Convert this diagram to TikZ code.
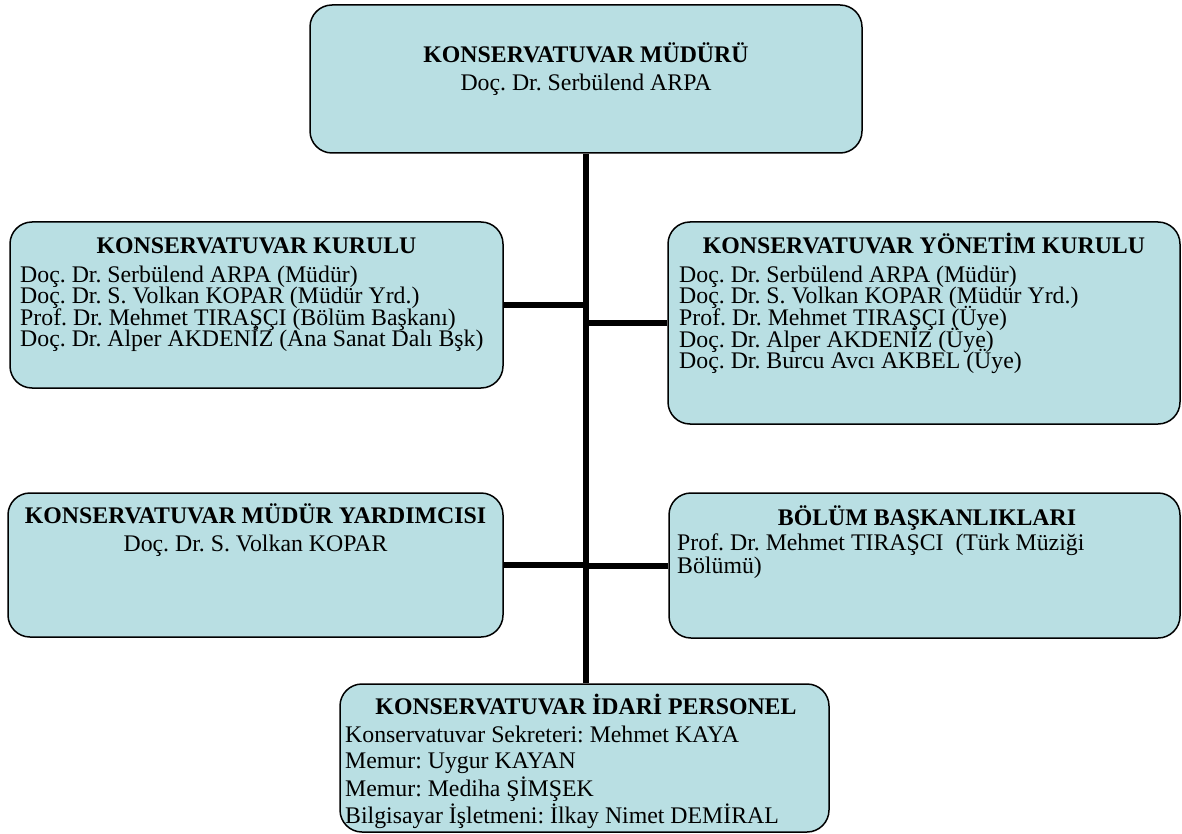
\documentclass[tikz,border=0pt]{standalone}
\usepackage{fontspec}
\setmainfont{Liberation Serif}
\frenchspacing
\definecolor{boxfill}{RGB}{185,223,227}
\begin{document}
\begin{tikzpicture}[x=1pt,y=-1pt,
  box/.style={draw=black, line width=1.5pt, fill=boxfill, rounded corners=22pt, inner sep=0pt},
  conn/.style={draw=black, line width=6pt},
  txt/.style={inner sep=0pt, font=\fontsize{23.8}{28}\selectfont},
  ttl/.style={inner sep=0pt, anchor=base, font=\fontsize{23.8}{28}\selectfont\bfseries},
  ctr/.style={txt, anchor=base},
  ln/.style={txt, anchor=base west}]
\useasboundingbox (0,0) rectangle (1182,834);

% boxes
\node[box, minimum width=552pt, minimum height=148pt] (mudur) at (586,79) {};
\node[box, minimum width=493pt, minimum height=166pt] (kurulu) at (256.5,305) {};
\node[box, minimum width=512pt, minimum height=202pt] (yonetim) at (924,323) {};
\node[box, minimum width=495pt, minimum height=144pt] (yard) at (255.5,565) {};
\node[box, minimum width=511pt, minimum height=145pt] (bolum) at (924.5,565.5) {};
\node[box, minimum width=489pt, minimum height=148pt] (idari) at (584.5,758) {};

% connectors
\draw[conn] (mudur.south) -- (mudur.south |- idari.north);
\draw[conn] (kurulu.east) -- (kurulu.east -| mudur.south);
\draw[conn] (yonetim.west) -- (yonetim.west -| mudur.south);
\draw[conn] (yard.east) -- (yard.east -| mudur.south);
\draw[conn] (bolum.west) -- (bolum.west -| mudur.south);

% top box
\node[ttl] (mudurT) at (586,63) {KONSERVATUVAR MÜDÜRÜ};
\node[ctr] (mudurA) at (586,91) {Doç. Dr. Serbülend ARPA};

% kurulu
\node[ttl] (kuruluT) at (256.5,254) {KONSERVATUVAR KURULU};
\node[ln] (kuruluA) at (20,282) {Doç. Dr. Serbülend ARPA (Müdür)};
\node[ln] (kuruluB) at (20,303.5) {Doç. Dr. S. Volkan KOPAR (Müdür Yrd.)};
\node[ln] (kuruluC) at (20,325) {Prof. Dr. Mehmet TIRAŞÇI (Bölüm Başkanı)};
\node[ln] (kuruluD) at (20,346.5) {Doç. Dr. Alper AKDENİZ (Ana Sanat Dalı Bşk)};

% yonetim
\node[ttl] (yonetimT) at (924,254) {KONSERVATUVAR YÖNETİM KURULU};
\node[ln] (yonetimA) at (679,282) {Doç. Dr. Serbülend ARPA (Müdür)};
\node[ln] (yonetimB) at (679,303.7) {Doç. Dr. S. Volkan KOPAR (Müdür Yrd.)};
\node[ln] (yonetimC) at (679,325.4) {Prof. Dr. Mehmet TIRAŞÇI (Üye)};
\node[ln] (yonetimD) at (679,347) {Doç. Dr. Alper AKDENİZ (Üye)};
\node[ln] (yonetimE) at (679,368.8) {Doç. Dr. Burcu Avcı AKBEL (Üye)};

% yardimci
\node[ttl] (yardT) at (255.5,523) {KONSERVATUVAR MÜDÜR YARDIMCISI};
\node[ctr] (yardA) at (255.5,551) {Doç. Dr. S. Volkan KOPAR};

% bolum
\node[ttl] (bolumT) at (927,525) {BÖLÜM BAŞKANLIKLARI};
\node[ln] (bolumA) at (677,550) {Prof. Dr. Mehmet TIRAŞCI\ \ (Türk Müziği};
\node[ln] (bolumB) at (677,573) {Bölümü)};

% idari
\node[ttl] (idariT) at (586,714) {KONSERVATUVAR İDARİ PERSONEL};
\node[ln] (idariA) at (345,742) {Konservatuvar Sekreteri: Mehmet KAYA};
\node[ln] (idariB) at (345,768.5) {Memur: Uygur KAYAN};
\node[ln] (idariC) at (345,796) {Memur: Mediha ŞİMŞEK};
\node[ln] (idariD) at (345,823.5) {Bilgisayar İşletmeni: İlkay Nimet DEMİRAL};
\end{tikzpicture}
\end{document}
